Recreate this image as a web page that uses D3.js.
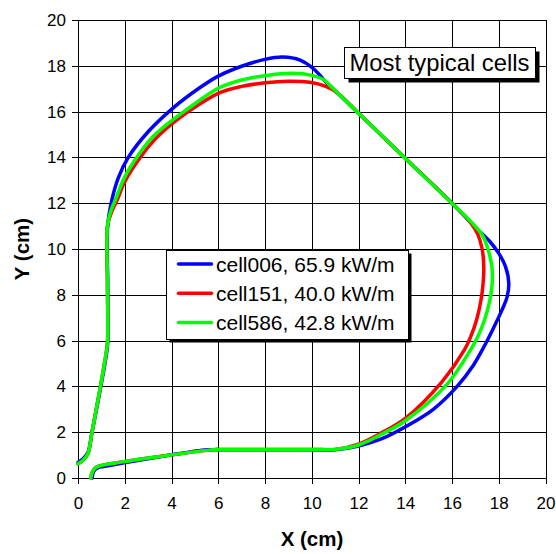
<!DOCTYPE html>
<html>
<head>
<meta charset="utf-8">
<script src="https://cdn.jsdelivr.net/npm/d3@7"></script>
<style>
  html, body { margin: 0; padding: 0; background: #fff; }
  svg { display: block; font-family: "Liberation Sans", Arial, sans-serif; }
</style>
</head>
<body>
<svg id="chart" width="556" height="554"></svg>
<script>
// Axis ticks (cm)
const xTicks = [0, 2, 4, 6, 8, 10, 12, 14, 16, 18, 20];
const yTicks = [0, 2, 4, 6, 8, 10, 12, 14, 16, 18, 20];

// Series labels and colours
const seriesNames = ["cell006, 65.9 kW/m", "cell151, 40.0 kW/m", "cell586, 42.8 kW/m"];
const seriesColors = ["#0000ff", "#ff0000", "#00ff00"];

// Cell outline traces, [X cm, Y cm]
const cell006 = [
  [0, 0.68], [0.22, 0.84], [0.42, 1.1], [0.6, 2.0], [1.2, 5.3], [1.27, 5.9], [1.27, 8.5], [1.27, 11.0],
  [1.44, 12.1], [1.72, 13.1], [2.15, 14.0], [3.0, 15.12], [4.0, 16.1], [5.22, 17.05], [6, 17.55],
  [7, 17.98], [8, 18.28], [8.75, 18.38], [9.5, 18.25], [10.1, 17.85], [10.55, 17.35], [10.9, 17.01],
  [12.08, 15.85], [13.93, 14.03], [16.0, 12.0], [17.05, 10.9], [17.6, 10.35], [18.0, 9.81],
  [18.29, 9.23], [18.43, 8.5], [18.36, 7.92], [18.14, 7.34], [17.75, 6.5], [17.35, 5.7], [16.9, 4.9],
  [16.22, 4.0], [15.2, 3.0], [14.2, 2.35], [13.0, 1.72], [12, 1.4], [11, 1.23], [10, 1.23], [6, 1.23],
  [5.5, 1.23], [1.1, 0.5], [0.88, 0.46], [0.68, 0.3], [0.6, 0]
];
const cell151 = [
  [0, 0.62], [0.22, 0.78], [0.42, 1.05], [0.6, 2.0], [1.18, 5.3], [1.26, 5.9], [1.26, 8.5], [1.26, 11.0],
  [1.45, 11.65], [1.66, 12.1], [2.0, 12.94], [2.66, 14.0], [3.3, 14.8], [4.0, 15.45], [4.72, 16.0],
  [6, 16.8], [7, 17.1], [8, 17.26], [9, 17.33], [10, 17.27], [10.6, 17.1], [11.1, 16.82],
  [12.08, 15.85], [13.93, 14.03], [16.0, 12.0], [16.75, 11.22], [17.1, 10.65], [17.29, 10.0],
  [17.36, 9.2], [17.33, 8.5], [17.24, 7.77], [17.05, 6.9], [16.8, 6.17], [16.53, 5.59], [15.57, 4.2],
  [14.0, 2.6], [13.0, 1.98], [12, 1.48], [11, 1.25], [10, 1.25], [6, 1.25], [5.9, 1.25],
  [1.0, 0.55], [0.78, 0.47], [0.62, 0.28], [0.55, 0]
];
const cell586 = [
  [0, 0.62], [0.22, 0.78], [0.42, 1.05], [0.6, 2.0], [1.18, 5.3], [1.26, 5.9], [1.26, 8.5], [1.26, 11.0],
  [1.4, 11.65], [1.58, 12.1], [2.0, 13.15], [2.51, 14.0], [3.2, 14.9], [4.0, 15.6], [4.6, 16.05],
  [6, 17.02], [7, 17.38], [8, 17.57], [9.2, 17.67], [10, 17.58], [10.5, 17.4], [10.9, 17.02],
  [12.08, 15.85], [13.93, 14.03], [16.0, 12.0], [16.85, 11.15], [17.3, 10.6], [17.55, 9.96],
  [17.71, 9.2], [17.72, 8.5], [17.62, 7.77], [17.39, 6.9], [17.1, 6.17], [16.79, 5.59], [15.79, 4.1],
  [14.0, 2.5], [13.0, 1.92], [12, 1.44], [11, 1.25], [10, 1.25], [6, 1.25], [5.9, 1.25],
  [1.0, 0.55], [0.78, 0.47], [0.62, 0.28], [0.55, 0]
];
const seriesData = [cell006, cell151, cell586];

const svg = d3.select("#chart");
const plot = { left: 78, right: 545.5, top: 20, bottom: 478 };

const x = d3.scaleLinear().domain([0, 20]).range([plot.left, plot.right]);
const y = d3.scaleLinear().domain([0, 20]).range([plot.bottom, plot.top]);

// Grid
const grid = svg.append("g").attr("stroke", "#000").attr("stroke-width", 1).attr("shape-rendering", "crispEdges");
grid.selectAll("line.v").data(xTicks).join("line")
  .attr("class", "v")
  .attr("x1", d => Math.round(x(d)) + 0.5).attr("x2", d => Math.round(x(d)) + 0.5)
  .attr("y1", plot.top).attr("y2", plot.bottom);
grid.selectAll("line.h").data(yTicks).join("line")
  .attr("class", "h")
  .attr("y1", d => Math.round(y(d)) + 0.5).attr("y2", d => Math.round(y(d)) + 0.5)
  .attr("x1", plot.left).attr("x2", plot.right);

// Axes
const xAxis = d3.axisBottom(x).tickValues(xTicks).tickSize(6).tickPadding(13).tickFormat(d3.format("d"));
const yAxis = d3.axisLeft(y).tickValues(yTicks).tickSize(6).tickPadding(6).tickFormat(d3.format("d"));

const gx = svg.append("g").attr("transform", `translate(0,${plot.bottom})`).call(xAxis);
const gy = svg.append("g").attr("transform", `translate(${plot.left},0)`).call(yAxis);
[gx, gy].forEach(g => {
  g.select(".domain").remove();
  g.selectAll(".tick line").attr("stroke", "#000").attr("shape-rendering", "crispEdges");
  g.selectAll(".tick text").attr("fill", "#000").attr("font-size", 17)
    .attr("font-family", "Liberation Sans, Arial, sans-serif");
});

// Axis titles
svg.append("text")
  .attr("x", 312).attr("y", 546)
  .attr("text-anchor", "middle").attr("font-size", 20.5).attr("font-weight", "bold")
  .text("X (cm)");
svg.append("text")
  .attr("transform", `translate(29,${(plot.top + plot.bottom) / 2}) rotate(-90)`)
  .attr("text-anchor", "middle").attr("font-size", 20.5).attr("font-weight", "bold")
  .text("Y (cm)");

// Outlines
const line = d3.line()
  .x(d => x(d[0])).y(d => y(d[1]))
  .curve(d3.curveCatmullRom.alpha(0.5));

svg.append("g").selectAll("path").data(seriesData).join("path")
  .attr("d", line)
  .attr("fill", "none")
  .attr("stroke", (d, i) => seriesColors[i])
  .attr("stroke-width", 3.5)
  .attr("stroke-linejoin", "round")
  .attr("stroke-linecap", "round");

// Title box with drop shadow
const tb = { x: 344.5, y: 47.5, w: 191, h: 31 };
svg.append("rect").attr("x", tb.x + 4).attr("y", tb.y + 4).attr("width", tb.w).attr("height", tb.h).attr("fill", "#000");
svg.append("rect").attr("x", tb.x).attr("y", tb.y).attr("width", tb.w).attr("height", tb.h)
  .attr("fill", "#fff").attr("stroke", "#000").attr("stroke-width", 1);
svg.append("text").attr("x", tb.x + 5).attr("y", tb.y + 23.5).attr("font-size", 24).attr("fill", "#000")
  .attr("textLength", 180).attr("lengthAdjust", "spacingAndGlyphs")
  .text("Most typical cells");

// Legend with drop shadow
const lg = { x: 166.5, y: 250.5, w: 242, h: 89 };
svg.append("rect").attr("x", lg.x + 3).attr("y", lg.y + 3).attr("width", lg.w).attr("height", lg.h).attr("fill", "#000");
svg.append("rect").attr("x", lg.x).attr("y", lg.y).attr("width", lg.w).attr("height", lg.h)
  .attr("fill", "#fff").attr("stroke", "#000").attr("stroke-width", 1);
const items = svg.append("g").selectAll("g").data(seriesNames).join("g")
  .attr("transform", (d, i) => `translate(${lg.x},${lg.y + 13.5 + i * 29.2})`);
items.append("line").attr("x1", 12).attr("x2", 45).attr("y1", 0).attr("y2", 0)
  .attr("stroke", (d, i) => seriesColors[i]).attr("stroke-width", 3.5).attr("stroke-linecap", "round");
items.append("text").attr("x", 49.5).attr("y", 8).attr("font-size", 21).attr("fill", "#000")
  .text(d => d);
</script>
</body>
</html>
